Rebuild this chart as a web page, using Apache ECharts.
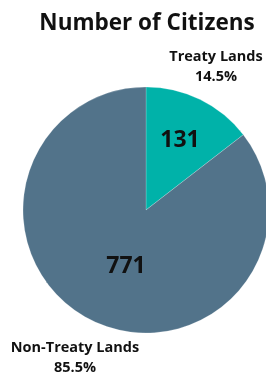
<!DOCTYPE html>
<html><head><meta charset="utf-8">
<script src="https://cdn.jsdelivr.net/npm/echarts@6/dist/echarts.min.js"></script>
<style>html,body{margin:0;padding:0;background:#fff}#c{width:266px;height:378px}</style>
</head><body><div id="c"></div>
<script>
const titleText = 'Number of Citizens';
const categories = ['Treaty Lands', 'Non-Treaty Lands'];
const values = [131, 771];
const percents = ['14.5%', '85.5%'];
const colors = ['#00B2A9', '#52738A'];

const chart = echarts.init(document.getElementById('c'), null, {renderer: 'canvas'});
const valuePos = [[180, 140], [126, 266]];
const namePos = [[216, 67], [75, 358]];
chart.setOption({
  animation: false,
  title: {
    text: titleText, left: 142, top: 7, textAlign: 'center',
    textStyle: {fontFamily: 'Open Sans', fontWeight: 'bold', fontSize: 22.5, color: '#111'}
  },
  series: [
    {
      type: 'pie', center: [146, 210], radius: 123, startAngle: 90, clockwise: true,
      silent: true,
      itemStyle: {borderColor: 'rgba(255,255,255,0.4)', borderWidth: 0.5},
      label: {position: 'inside', formatter: '{c}', fontFamily: 'Open Sans', fontWeight: 'bold', fontSize: 23, color: '#111'},
      labelLayout: p => ({x: valuePos[p.dataIndex][0], y: valuePos[p.dataIndex][1], align: 'center', verticalAlign: 'middle'}),
      data: categories.map((n, i) => ({name: n, value: values[i], itemStyle: {color: colors[i]}}))
    },
    {
      type: 'pie', center: [146, 210], radius: 123, startAngle: 90, clockwise: true,
      silent: true,
      itemStyle: {color: 'rgba(0,0,0,0)'},
      labelLine: {show: false},
      label: {position: 'inside', formatter: p => p.name + '\n' + percents[p.dataIndex],
        fontFamily: 'Open Sans', fontWeight: 'bold', fontSize: 14.5, lineHeight: 20, color: '#111', align: 'center'},
      labelLayout: p => ({x: namePos[p.dataIndex][0], y: namePos[p.dataIndex][1], align: 'center', verticalAlign: 'middle'}),
      data: categories.map((n, i) => ({name: n, value: values[i]}))
    }
  ]
});
</script></body></html>
